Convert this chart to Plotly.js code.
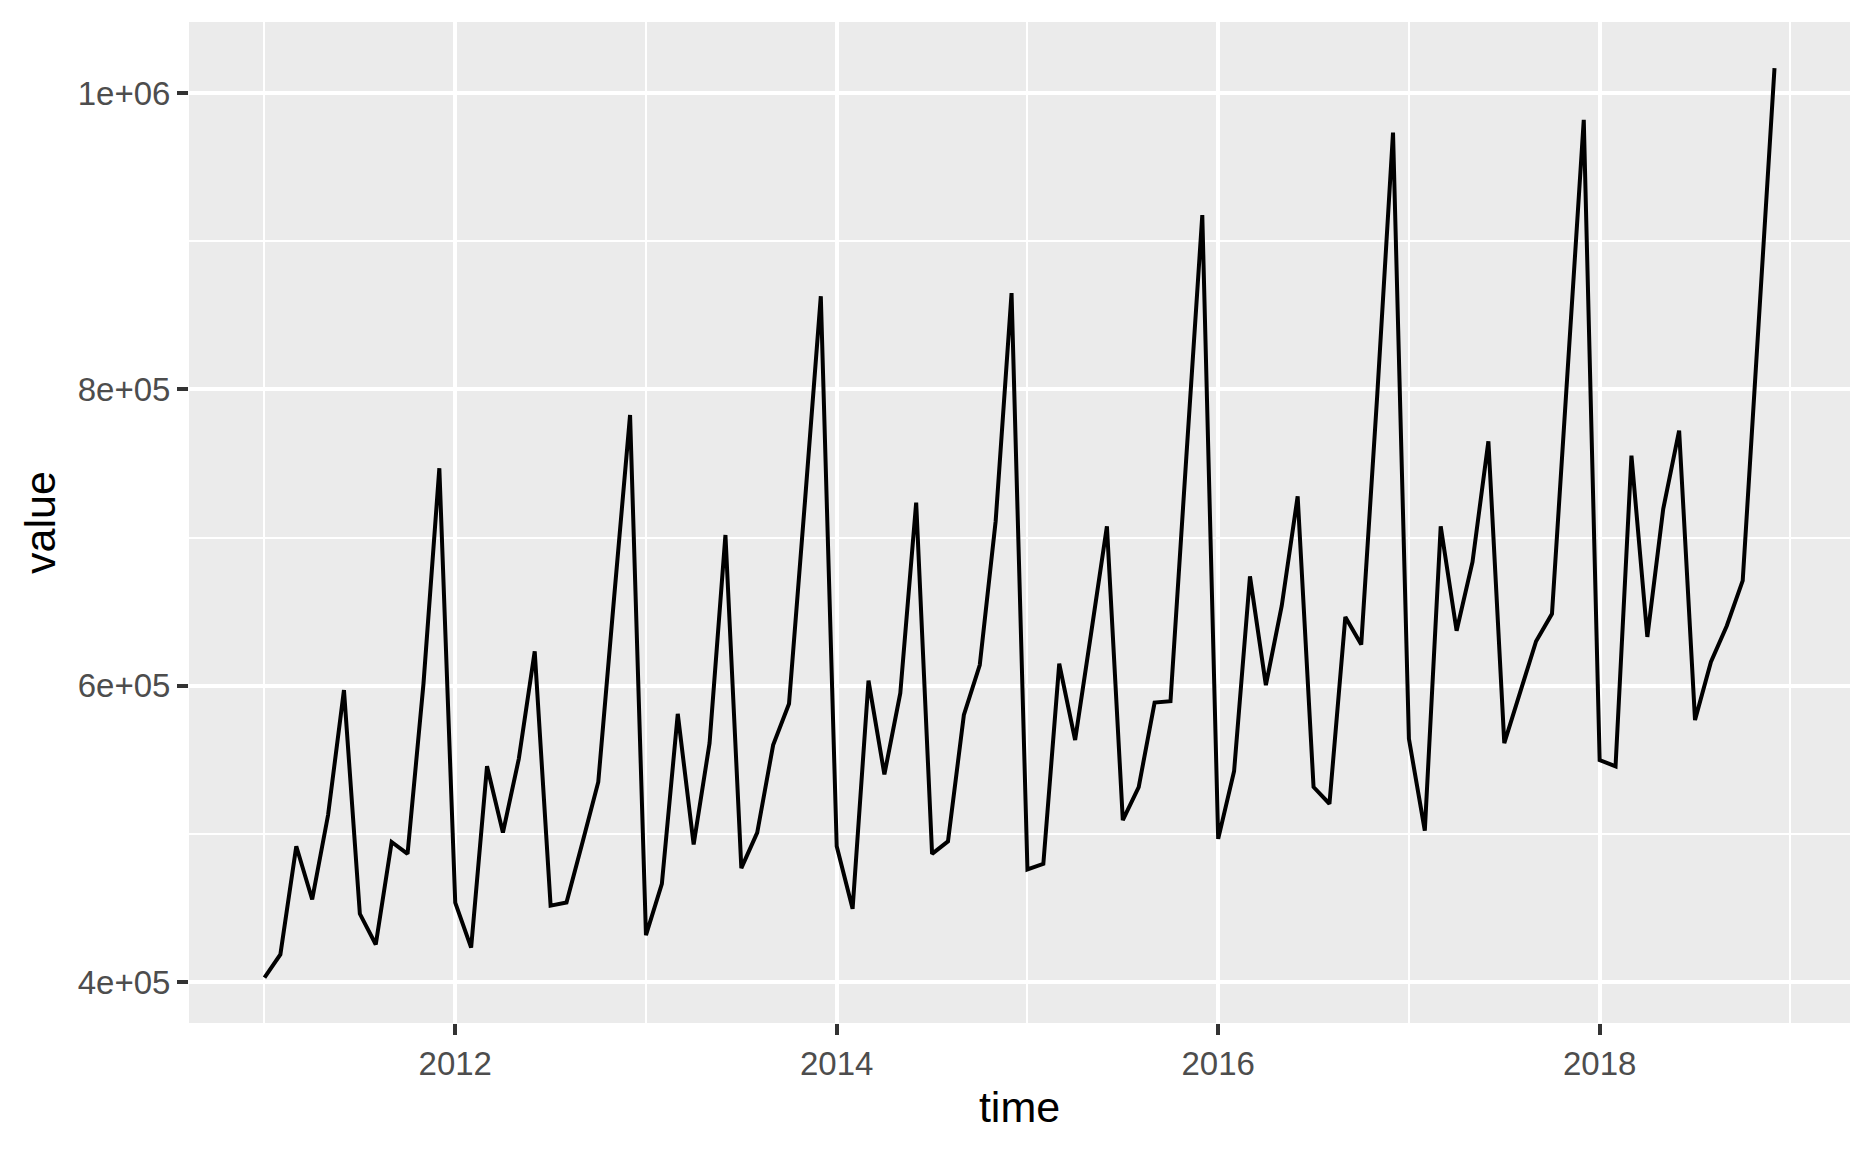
<!DOCTYPE html>
<html>
<head>
<meta charset="utf-8">
<script src="https://cdn.plot.ly/plotly-3.0.1.min.js"></script>
<style>
  html, body { margin: 0; padding: 0; background: #ffffff; }
  #chart { width: 1872px; height: 1152px; }
</style>
</head>
<body>
<div id="chart"></div>
<script>
// Monthly values, January .. December
const years = [2011, 2012, 2013, 2014, 2015, 2016, 2017, 2018];
const v2011 = [403000, 418600, 491600, 455700, 512700, 597000, 446000, 425300, 494500, 486500, 601000, 746800];
const v2012 = [453600, 423200, 545600, 500800, 550600, 623200, 451500, 453600, 494000, 535000, 660000, 782700];
const v2013 = [431600, 466200, 581000, 492800, 561200, 701700, 476800, 500800, 559900, 587800, 724000, 862900];
const v2014 = [491600, 449400, 603400, 540100, 594900, 723600, 486500, 494900, 580200, 613900, 711000, 865000];
const v2015 = [476000, 479700, 614800, 563300, 635000, 707600, 509300, 531600, 588600, 589500, 755000, 917700];
const v2016 = [496600, 542200, 673800, 600400, 654000, 727800, 531600, 520300, 646400, 627800, 795000, 973400];
const v2017 = [564100, 502100, 707600, 637100, 683500, 765000, 561200, 596000, 630000, 648500, 812000, 981900];
const v2018 = [549800, 545600, 755300, 632900, 719400, 772200, 576800, 616000, 640500, 670900, 844000, 1016900];

const xTickVals = [2012, 2014, 2016, 2018];
const xTickText = ["2012", "2014", "2016", "2018"];
const yTickVals = [400000, 600000, 800000, 1000000];
const yTickText = ["4e+05", "6e+05", "8e+05", "1e+06"];

const yearly = [v2011, v2012, v2013, v2014, v2015, v2016, v2017, v2018];
const time = [];
const value = [];
years.forEach((yr, k) => {
  yearly[k].forEach((v, m) => {
    time.push(yr + m / 12);
    value.push(v);
  });
});

const trace = {
  x: time,
  y: value,
  type: "scatter",
  mode: "lines",
  line: { color: "#000000", width: 4 },
  hoverinfo: "x+y"
};

const FONT = "Liberation Sans, Arial, Helvetica, sans-serif";

const layout = {
  width: 1872,
  height: 1152,
  paper_bgcolor: "#ffffff",
  plot_bgcolor: "#EBEBEB",
  showlegend: false,
  margin: { l: 189, r: 22, t: 22, b: 129, pad: 0 },
  font: { family: FONT, color: "#4D4D4D" },
  xaxis: {
    range: [2010.6042, 2019.3125],
    tickmode: "array",
    tickvals: xTickVals,
    ticktext: xTickText,
    ticks: "outside",
    ticklen: 11,
    tickwidth: 3.5,
    tickcolor: "#333333",
    tickfont: { family: FONT, size: 33, color: "#4D4D4D" },
    showgrid: true,
    gridcolor: "#ffffff",
    gridwidth: 3.6,
    minor: { tick0: 2011, dtick: 1, showgrid: true, gridcolor: "#ffffff", gridwidth: 1.8, ticks: "" },
    zeroline: false,
    showline: false,
    automargin: false,
    title: { text: "time", font: { family: FONT, size: 43, color: "#000000" }, standoff: 11 }
  },
  yaxis: {
    range: [372300, 1048000],
    tickmode: "array",
    tickvals: yTickVals,
    ticktext: yTickText,
    ticks: "outside",
    ticklen: 11,
    tickwidth: 3.5,
    tickcolor: "#333333",
    tickfont: { family: FONT, size: 33, color: "#4D4D4D" },
    showgrid: true,
    gridcolor: "#ffffff",
    gridwidth: 3.6,
    minor: { tick0: 300000, dtick: 100000, showgrid: true, gridcolor: "#ffffff", gridwidth: 1.8, ticks: "" },
    zeroline: false,
    showline: false,
    automargin: false,
    title: { text: "value", font: { family: FONT, size: 43, color: "#000000" }, standoff: 8 }
  }
};

Plotly.newPlot("chart", [trace], layout, { displayModeBar: false, responsive: false });
</script>
</body>
</html>
